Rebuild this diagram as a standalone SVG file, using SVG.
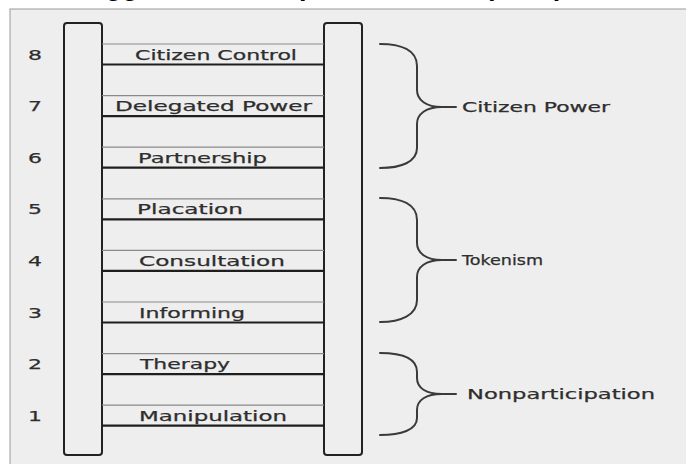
<svg xmlns="http://www.w3.org/2000/svg" width="686" height="464" viewBox="0 0 686 464">
<style>
.title{font-family:"Liberation Sans",Arial,sans-serif;font-weight:bold;font-size:27px;fill:#000}
.num{font-family:"DejaVu Sans",sans-serif;font-size:14.5px;fill:#2e2e2e;stroke:#2e2e2e;stroke-width:0.25;text-anchor:middle}
.lbl{font-family:"DejaVu Sans",sans-serif;font-size:14.5px;fill:#2e2e2e;stroke:#2e2e2e;stroke-width:0.25}
.rail{fill:none;stroke:#222;stroke-width:2}
.thin{stroke:#8a8a8a;stroke-width:1.2}
.thick{stroke:#1e1e1e;stroke-width:2.2}
.brace{fill:none;stroke:#3a3a3a;stroke-width:2;stroke-linecap:round;stroke-linejoin:round}
</style>
<rect x="0" y="0" width="686" height="464" fill="#ffffff"/>
<text class="title" x="71" y="-5">Suggested Participation Ladder (1969)</text>
<rect x="10" y="9" width="690" height="470" fill="#eeeeee" stroke="#9a9a9a" stroke-width="1"/>
<g id="ladder">
<rect class="rail" x="64" y="23" width="38" height="432" rx="3"/>
<rect class="rail" x="324" y="23" width="38" height="432" rx="3"/>
</g>
<g id="rung8"><line class="thin" x1="102" y1="44" x2="324" y2="44"/><line class="thick" x1="102" y1="64.5" x2="324" y2="64.5"/><text class="num" x="35" y="59.5" textLength="14" lengthAdjust="spacingAndGlyphs">8</text><text class="lbl" x="135" y="59.5" textLength="162" lengthAdjust="spacingAndGlyphs">Citizen Control</text></g>
<g id="rung7"><line class="thin" x1="102" y1="95.6" x2="324" y2="95.6"/><line class="thick" x1="102" y1="116.1" x2="324" y2="116.1"/><text class="num" x="35" y="111.1" textLength="14" lengthAdjust="spacingAndGlyphs">7</text><text class="lbl" x="115" y="111.1" textLength="197" lengthAdjust="spacingAndGlyphs">Delegated Power</text></g>
<g id="rung6"><line class="thin" x1="102" y1="147.2" x2="324" y2="147.2"/><line class="thick" x1="102" y1="167.7" x2="324" y2="167.7"/><text class="num" x="35" y="162.7" textLength="14" lengthAdjust="spacingAndGlyphs">6</text><text class="lbl" x="138" y="162.7" textLength="129" lengthAdjust="spacingAndGlyphs">Partnership</text></g>
<g id="rung5"><line class="thin" x1="102" y1="198.8" x2="324" y2="198.8"/><line class="thick" x1="102" y1="219.3" x2="324" y2="219.3"/><text class="num" x="35" y="214.3" textLength="14" lengthAdjust="spacingAndGlyphs">5</text><text class="lbl" x="137" y="214.3" textLength="106" lengthAdjust="spacingAndGlyphs">Placation</text></g>
<g id="rung4"><line class="thin" x1="102" y1="250.4" x2="324" y2="250.4"/><line class="thick" x1="102" y1="270.9" x2="324" y2="270.9"/><text class="num" x="35" y="265.9" textLength="14" lengthAdjust="spacingAndGlyphs">4</text><text class="lbl" x="139" y="265.9" textLength="146" lengthAdjust="spacingAndGlyphs">Consultation</text></g>
<g id="rung3"><line class="thin" x1="102" y1="302" x2="324" y2="302"/><line class="thick" x1="102" y1="322.5" x2="324" y2="322.5"/><text class="num" x="35" y="317.5" textLength="14" lengthAdjust="spacingAndGlyphs">3</text><text class="lbl" x="139" y="317.5" textLength="106" lengthAdjust="spacingAndGlyphs">Informing</text></g>
<g id="rung2"><line class="thin" x1="102" y1="353.6" x2="324" y2="353.6"/><line class="thick" x1="102" y1="374.1" x2="324" y2="374.1"/><text class="num" x="35" y="369.1" textLength="14" lengthAdjust="spacingAndGlyphs">2</text><text class="lbl" x="140" y="369.1" textLength="90" lengthAdjust="spacingAndGlyphs">Therapy</text></g>
<g id="rung1"><line class="thin" x1="102" y1="405.2" x2="324" y2="405.2"/><line class="thick" x1="102" y1="425.7" x2="324" y2="425.7"/><text class="num" x="35" y="420.7" textLength="14" lengthAdjust="spacingAndGlyphs">1</text><text class="lbl" x="139" y="420.7" textLength="148" lengthAdjust="spacingAndGlyphs">Manipulation</text></g>
<g id="citizen-power">
<path class="brace" d="M380,44 C401,44 417,50 417,66 L417,90 C417,100 426,107 442,107 L456,107 M442,107 C426,107 417,114 417,124 L417,148 C417,162 401,168 380,168"/>
<text class="lbl" x="462" y="112" textLength="148" lengthAdjust="spacingAndGlyphs">Citizen Power</text>
</g>
<g id="tokenism">
<path class="brace" d="M380,198 C401,198 417,204 417,220 L417,243 C417,253 426,260 442,260 L456,260 M442,260 C426,260 417,267 417,277 L417,300 C417,315 401,322 380,322"/>
<text class="lbl" x="462" y="265" textLength="81" lengthAdjust="spacingAndGlyphs">Tokenism</text>
</g>
<g id="nonparticipation">
<path class="brace" d="M380,353 C401,353 417,358 417,372 L417,378 C417,388 426,394 442,394 L456,394 M442,394 C426,394 417,400 417,410 L417,418 C417,430 401,435 380,435"/>
<text class="lbl" x="467" y="399" textLength="188" lengthAdjust="spacingAndGlyphs">Nonparticipation</text>
</g>
</svg>
